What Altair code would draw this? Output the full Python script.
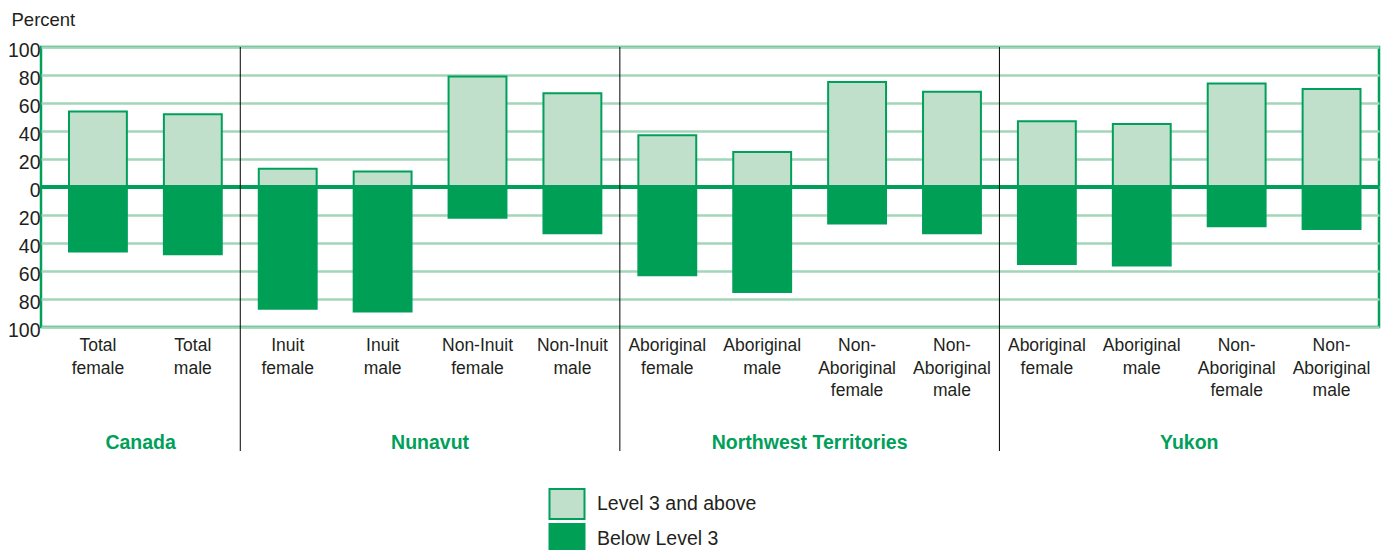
import altair as alt
import pandas as pd

groups = ["Canada", "Nunavut", "Northwest Territories", "Yukon"]
group_sizes = [2, 4, 4, 4]
categories = [
    "Total\nfemale", "Total\nmale",
    "Inuit\nfemale", "Inuit\nmale", "Non-Inuit\nfemale", "Non-Inuit\nmale",
    "Aboriginal\nfemale", "Aboriginal\nmale", "Non-\nAboriginal\nfemale", "Non-\nAboriginal\nmale",
    "Aboriginal\nfemale", "Aboriginal\nmale", "Non-\nAboriginal\nfemale", "Non-\nAboriginal\nmale",
]
level3_above = [54, 52, 13, 11, 79, 67, 37, 25, 75, 68, 47, 45, 74, 70]
below_level3 = [46, 48, 87, 89, 22, 33, 63, 75, 26, 33, 55, 56, 28, 30]
series = ["Level 3 and above", "Below Level 3"]
y_ticks = [-100, -80, -60, -40, -20, 0, 20, 40, 60, 80, 100]

FONT = "Liberation Sans, Arial, Helvetica, sans-serif"
GREEN = "#00a05a"
DARK = "#009f56"
LIGHT = "#c0e0cc"
GRID = "#a3d6b9"
TEXT = "#231f20"

XMIN, XMAX = -0.6, 13.5
xscale = alt.Scale(domain=[XMIN, XMAX], nice=False, zero=False)
yscale = alt.Scale(domain=[-100, 100], nice=False)

rows = []
for i, (a, b) in enumerate(zip(level3_above, below_level3)):
    rows.append({"idx": i, "series": series[0], "y0": 0, "y1": a})
    rows.append({"idx": i, "series": series[1], "y0": -b, "y1": 0})
bars_df = pd.DataFrame(rows)

cat_df = pd.DataFrame({"idx": list(range(len(categories))), "label": categories})

# group boundaries and centres
starts, s = [], 0
for n in group_sizes:
    starts.append(s)
    s += n
lefts = [XMIN if k == 0 else st - 0.5 for k, st in enumerate(starts)]
rights = [st + n - 0.5 for st, n in zip(starts, group_sizes)]
grp_df = pd.DataFrame({"group": groups, "center": [(l + r) / 2 for l, r in zip(lefts, rights)]})
sep_df = pd.DataFrame({"pos": [st - 0.5 for st in starts[1:]]})

yaxis = alt.Axis(
    values=y_ticks, labelExpr="abs(datum.value)", grid=True,
    gridColor=GRID, gridWidth=2.5, domain=False, ticks=False,
    labelPadding=1, labelOffset=3.5, labelFont=FONT, labelFontSize=19.5, labelColor=TEXT,
    title="Percent", titleAngle=0, titleX=-30, titleY=-22,
    titleAlign="left", titleBaseline="alphabetic", titleFont=FONT,
    titleFontSize=18.5, titleFontWeight="normal", titleColor=TEXT,
)

bars = alt.Chart(bars_df).transform_calculate(
    lo="datum.idx - 0.305", hi="datum.idx + 0.305"
).mark_bar(stroke=GREEN, strokeWidth=2).encode(
    x=alt.X("lo:Q", scale=xscale, axis=None),
    x2="hi:Q",
    y=alt.Y("y0:Q", scale=yscale, axis=yaxis),
    y2="y1:Q",
    fill=alt.Fill(
        "series:N",
        scale=alt.Scale(domain=series, range=[LIGHT, DARK]),
        sort=series,
        legend=alt.Legend(
            title=None, orient="none", legendX=510, legendY=441,
            symbolType="M-1.1667,-1H1.1667V1H-1.1667Z", symbolSize=900,
            symbolStrokeColor=GREEN, symbolStrokeWidth=2, symbolOpacity=1,
            labelFont=FONT, labelFontSize=19.5, labelColor=TEXT, labelLimit=300,
            labelOffset=14, rowPadding=-14,
        ),
    ),
)

zero = alt.Chart(pd.DataFrame({"y": [0]})).mark_rule(color=GREEN, strokeWidth=4).encode(
    y=alt.Y("y:Q", scale=yscale, axis=yaxis)
)

seps = alt.Chart(sep_df).mark_rule(color="black", strokeWidth=1).encode(
    x=alt.X("pos:Q", scale=xscale, axis=None),
    y=alt.value(0), y2=alt.value(404),
)

cat_text = alt.Chart(cat_df).mark_text(
    baseline="top", align="center", lineBreak="\n", font=FONT, fontSize=17.5,
    lineHeight=22.5, color=TEXT,
).encode(x=alt.X("idx:Q", scale=xscale, axis=None), y=alt.value(290), text="label:N")

grp_text = alt.Chart(grp_df).mark_text(
    baseline="middle", align="center", font=FONT, fontSize=19.5, fontWeight="bold", color=GREEN,
).encode(x=alt.X("center:Q", scale=xscale, axis=None), y=alt.value(396), text="group:N")

chart = alt.layer(bars, zero, seps, cat_text, grp_text).properties(
    width=1338, height=280, autosize="none",
    padding={"left": 33, "top": 39, "right": 3, "bottom": 223},
).configure_view(stroke=GREEN, strokeWidth=2.5)

chart.save("out.html", embed_options={"renderer": "svg", "actions": False})
